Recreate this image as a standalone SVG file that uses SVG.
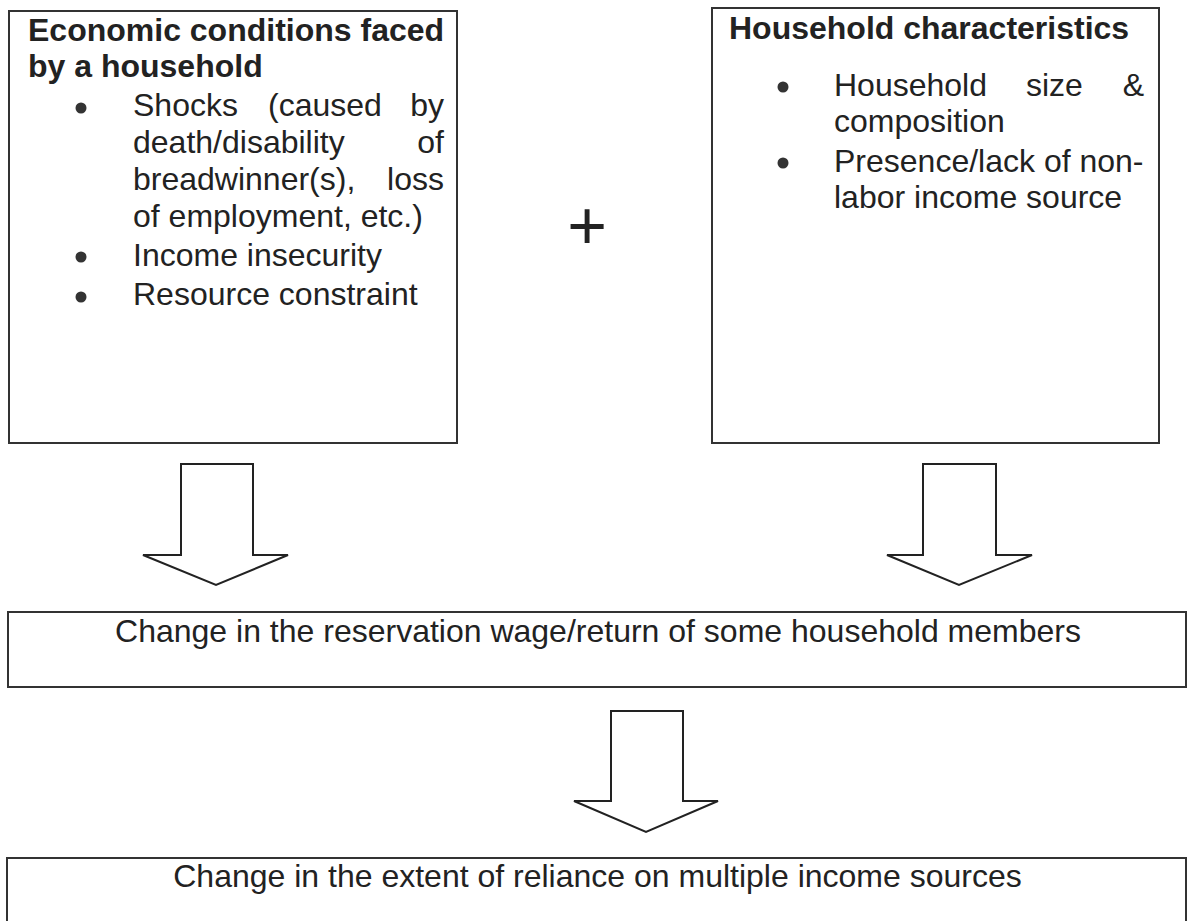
<svg xmlns="http://www.w3.org/2000/svg" width="1187" height="921" viewBox="0 0 1187 921">
<style>
.box{fill:#fff;stroke:#333;stroke-width:2}
.arrow{fill:#fff;stroke:#222;stroke-width:2;stroke-linejoin:miter}
.t{font-family:"Liberation Sans",Arial,sans-serif;font-size:32px;fill:#222}
.b{font-weight:bold}
.end{text-anchor:end}
.mid{text-anchor:middle}
.dot{fill:#333}
</style>
<rect width="1187" height="921" fill="#fff"/>
<g id="economic-conditions">
<rect class="box" x="9" y="11" width="448" height="432"/>
<text class="t b" x="28" y="40.5">Economic conditions faced</text>
<text class="t b" x="28" y="77">by a household</text>
<circle class="dot" cx="81" cy="108" r="5.5"/>
<text class="t" x="133" y="116">Shocks</text>
<text class="t" x="268" y="116">(caused</text>
<text class="t end" x="444" y="116">by</text>
<text class="t" x="133" y="153">death/disability</text>
<text class="t end" x="444" y="153">of</text>
<text class="t" x="133" y="190">breadwinner(s),</text>
<text class="t end" x="444" y="190">loss</text>
<text class="t" x="133" y="227">of employment, etc.)</text>
<circle class="dot" cx="81" cy="257" r="5.5"/>
<text class="t" x="133" y="266">Income insecurity</text>
<circle class="dot" cx="81" cy="297" r="5.5"/>
<text class="t" x="133" y="305">Resource constraint</text>
</g>
<g id="plus">
<text class="t mid" x="587" y="249" style="font-size:68px">+</text>
</g>
<g id="household-characteristics">
<rect class="box" x="712" y="8" width="447" height="435"/>
<text class="t b" x="729" y="39">Household characteristics</text>
<circle class="dot" cx="783" cy="87" r="5.5"/>
<text class="t" x="834" y="96">Household</text>
<text class="t" x="1026" y="96">size</text>
<text class="t end" x="1144" y="96">&amp;</text>
<text class="t" x="834" y="132">composition</text>
<circle class="dot" cx="783" cy="163" r="5.5"/>
<text class="t" x="834" y="172">Presence/lack of non-</text>
<text class="t" x="834" y="208">labor income source</text>
</g>
<g id="reservation-wage">
<rect class="box" x="8" y="612" width="1178" height="75"/>
<text class="t mid" x="598" y="642">Change in the reservation wage/return of some household members</text>
</g>
<g id="reliance">
<rect class="box" x="7" y="858" width="1179" height="70"/>
<text class="t mid" x="597.5" y="887">Change in the extent of reliance on multiple income sources</text>
</g>
<g id="connectors">
<polygon class="arrow" points="181,464 253,464 253,555 288,555 216,585 143,555 181,555"/>
<polygon class="arrow" points="923,464 996,464 996,555 1032,555 959,585 887,555 923,555"/>
<polygon class="arrow" points="611,711 683,711 683,801 718,801 646,832 574,801 611,801"/>
</g>
</svg>
